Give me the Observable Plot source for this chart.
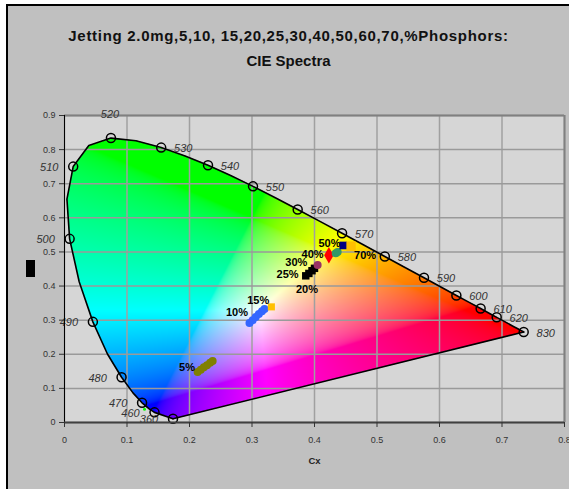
<!DOCTYPE html>
<html><head><meta charset="utf-8">
<script src="https://cdn.jsdelivr.net/npm/d3@7"></script>
<script src="https://cdn.jsdelivr.net/npm/@observablehq/plot@0.6"></script>
<style>
html,body{margin:0;padding:0;background:#fff;}
#wrap{position:absolute;left:6px;top:4px;width:561px;height:483px;border-left:2px solid #000;border-top:2px solid #000;background:#c0c0c0;font-family:"Liberation Sans",Arial,sans-serif;overflow:hidden;}
#title{height:70px;box-sizing:border-box;padding-top:17px;text-align:center;font-weight:bold;font-size:15px;line-height:25px;color:#111;}
#title .l1{letter-spacing:0.7px;}
#ylab{position:absolute;left:18px;top:254px;width:9px;height:17px;background:#000;}
#wrap svg{display:block;}
</style></head>
<body>
<div id="wrap">
  <div id="title"><span class="l1">Jetting 2.0mg,5,10, 15,20,25,30,40,50,60,70,%Phosphors:</span><br>CIE Spectra</div>
  <div id="ylab"></div>
  <div id="chart"></div>
</div>
<script>
// Spectral locus curve (CIE 1931 chromaticity), from 360 marker round to 830
const locusX = [0.1736,0.1440,0.1355,0.1241,0.1096,0.0913,0.0687,0.0454,0.0235,0.0082,0.0039,0.0139,0.0389,0.0743,0.1142,0.1547,0.1929,0.2296,0.2658,0.3016,0.3373,0.3731,0.4087,0.4441,0.4788,0.5125,0.5448,0.5752,0.6029,0.6270,0.6482,0.6658,0.6801,0.6915,0.7006,0.7079,0.7190,0.7260,0.7300,0.7334,0.7347];
const locusY = [0.0110,0.0297,0.0399,0.0578,0.0868,0.1327,0.2007,0.2950,0.4127,0.5384,0.6548,0.7502,0.8120,0.8338,0.8262,0.8059,0.7816,0.7543,0.7243,0.6923,0.6589,0.6245,0.5896,0.5547,0.5202,0.4866,0.4544,0.4242,0.3965,0.3725,0.3514,0.3340,0.3197,0.3083,0.2993,0.2920,0.2809,0.2740,0.2700,0.2666,0.2653];

// Wavelength markers
const markWl = [360,460,470,480,490,500,510,520,530,540,550,560,570,580,590,600,610,620,830];
const markX = [0.1736,0.1440,0.1241,0.0913,0.0454,0.0082,0.0139,0.0743,0.1547,0.2296,0.3016,0.3731,0.4441,0.5125,0.5752,0.6270,0.6658,0.6915,0.7347];
const markY = [0.0110,0.0297,0.0578,0.1327,0.2950,0.5384,0.7502,0.8338,0.8059,0.7543,0.6923,0.6245,0.5547,0.4866,0.4242,0.3725,0.3340,0.3083,0.2653];

// Phosphor measurement series
const p5X  = [0.213,0.218,0.223,0.228,0.233,0.237];
const p5Y  = [0.148,0.155,0.162,0.168,0.175,0.180];
const p10X = [0.296,0.301,0.306,0.311,0.316,0.320];
const p10Y = [0.292,0.300,0.309,0.318,0.326,0.333];
const p15X = [0.331]; const p15Y = [0.339];
const p20X = [0.386,0.391,0.396,0.400]; const p20Y = [0.430,0.437,0.445,0.452];
const p30X = [0.405]; const p30Y = [0.462];
const p40X = [0.423]; const p40Y = [0.490];
const p60X = [0.434,0.437]; const p60Y = [0.496,0.500];
const p50X = [0.446]; const p50Y = [0.519];
const p70X = [0.4585]; const p70Y = [0.517];
const strayX = [0.128]; const strayY = [0.039];

const pctLabels = ["5%","10%","15%","20%","25%","30%","40%","50%","70%"];
const pctLabelX = [0.196,0.276,0.310,0.388,0.357,0.371,0.397,0.424,0.481];
const pctLabelY = [0.161,0.323,0.358,0.389,0.434,0.470,0.493,0.524,0.490];

const xTicks = [0,0.1,0.2,0.3,0.4,0.5,0.6,0.7,0.8];
const yTicks = [0,0.1,0.2,0.3,0.4,0.5,0.6,0.7,0.8,0.9];

const pts = (xs, ys) => xs.map((x, i) => ({x, y: ys[i]}));
const locus = pts(locusX, locusY);
const poly = locusX.map((x, i) => [x, locusY[i]]);
const markers = markWl.map((w, i) => ({w, label: String(w), x: markX[i], y: markY[i]}));
const closing = [markers[0], markers[markers.length - 1]];
const pctLab = pctLabels.map((t, i) => ({t, x: pctLabelX[i], y: pctLabelY[i]}));

function chroma(x, y) {
  if (!d3.polygonContains(poly, [x, y])) return null;
  const X = x / y, Y = 1, Z = (1 - x - y) / y;
  let r = 3.2406 * X - 1.5372 * Y - 0.4986 * Z;
  let g = -0.9689 * X + 1.8758 * Y + 0.0415 * Z;
  let b = 0.0557 * X - 0.2040 * Y + 1.0570 * Z;
  r = Math.max(0, r); g = Math.max(0, g); b = Math.max(0, b);
  const m = Math.max(r, g, b) || 1;
  const gam = v => { v = v / m; return 255 * (v <= 0.0031308 ? 12.92 * v : 1.055 * Math.pow(v, 1 / 2.4) - 0.055); };
  return `rgb(${Math.round(gam(r))},${Math.round(gam(g))},${Math.round(gam(b))})`;
}

const font = '"Liberation Sans", Arial, sans-serif';
const chart = Plot.plot({
  width: 561,
  height: 413,
  marginLeft: 56,
  marginRight: 5,
  marginTop: 39,
  marginBottom: 67,
  style: {background: "transparent", fontFamily: font, fontSize: "9px", color: "#222"},
  x: {domain: [0, 0.8]},
  y: {domain: [0, 0.9]},
  color: {type: "identity"},
  marks: [
    Plot.frame({fill: "#d6d6d6", stroke: null}),
    Plot.raster({x1: 0, x2: 0.8, y1: 0, y2: 0.9, fill: chroma, pixelSize: 1}),
    Plot.gridX(xTicks, {stroke: "#a0a0a0", strokeOpacity: 1, strokeWidth: 1.5}),
    Plot.gridY(yTicks, {stroke: "#9a9a9a", strokeOpacity: 1, strokeWidth: 1.5}),
    Plot.ruleY([0.9], {stroke: "#808080", strokeWidth: 2}),
    Plot.ruleX([0.8], {stroke: "#808080", strokeWidth: 2}),
    Plot.line(locus, {x: "x", y: "y", stroke: "#000", strokeWidth: 1.6}),
    Plot.line(closing, {x: "x", y: "y", stroke: "#000", strokeWidth: 1.6}),
    Plot.dot(markers, {x: "x", y: "y", r: 4.5, stroke: "#000", strokeWidth: 1.5, fill: "none"}),
    Plot.text(markers, {filter: d => d.w > 520, x: "x", y: "y", text: "label", dx: 22, dy: 1, fontStyle: "italic", fontSize: 11, fill: "#333"}),
    Plot.text(markers, {filter: d => d.w < 520, x: "x", y: "y", text: "label", dx: -24, dy: 1, fontStyle: "italic", fontSize: 11, fill: "#333"}),
    Plot.text(markers, {filter: d => d.w === 520, x: "x", y: "y", text: "label", dx: -1, dy: -24, fontStyle: "italic", fontSize: 11, fill: "#333"}),
    Plot.dot(pts(strayX, strayY), {x: "x", y: "y", r: 1.5, fill: "#00ff00"}),
    Plot.dot(pts(p5X, p5Y), {x: "x", y: "y", r: 4, fill: "#808000"}),
    Plot.dot(pts(p10X, p10Y), {x: "x", y: "y", r: 4, fill: "#3366ff"}),
    Plot.dot(pts(p15X, p15Y), {x: "x", y: "y", r: 4, symbol: "square", fill: "#ffc000"}),
    Plot.dot(pts(p20X, p20Y), {x: "x", y: "y", r: 4.2, symbol: "square", fill: "#000"}),
    Plot.dot(pts(p30X, p30Y), {x: "x", y: "y", r: 4, fill: "#993366"}),
    Plot.dot(pts(p40X, p40Y), {x: "x", y: "y", r: 5, symbol: "diamond", fill: "#ff0000"}),
    Plot.dot(pts(p60X, p60Y), {x: "x", y: "y", r: 4, fill: "#339966"}),
    Plot.dot(pts(p50X, p50Y), {x: "x", y: "y", r: 4.3, symbol: "square", fill: "#000080"}),
    Plot.dot(pts(p70X, p70Y), {x: "x", y: "y", r: 5.3, symbol: "square", fill: "#ffc000"}),
    Plot.text(pctLab, {x: "x", y: "y", text: "t", fontWeight: "bold", fontSize: 11, fill: "#000"}),
    Plot.ruleX([0], {stroke: "#000", strokeWidth: 1}),
    Plot.ruleY([0], {stroke: "#404040", strokeWidth: 2}),
    Plot.axisX(xTicks, {anchor: "bottom", tickSize: 5, tickPadding: 9, label: null, tickFormat: d => String(d), fontSize: 9, color: "#333"}),
    Plot.axisY(yTicks, {anchor: "left", tickSize: 5, tickPadding: 4, label: null, tickFormat: d => String(d), fontSize: 9, color: "#333"}),
    Plot.text(["Cx"], {frameAnchor: "bottom", dy: 41, fontWeight: "bold", fontSize: 9.5, fill: "#222", text: d => d})
  ]
});
document.getElementById("chart").appendChild(chart);
</script>
</body></html>
